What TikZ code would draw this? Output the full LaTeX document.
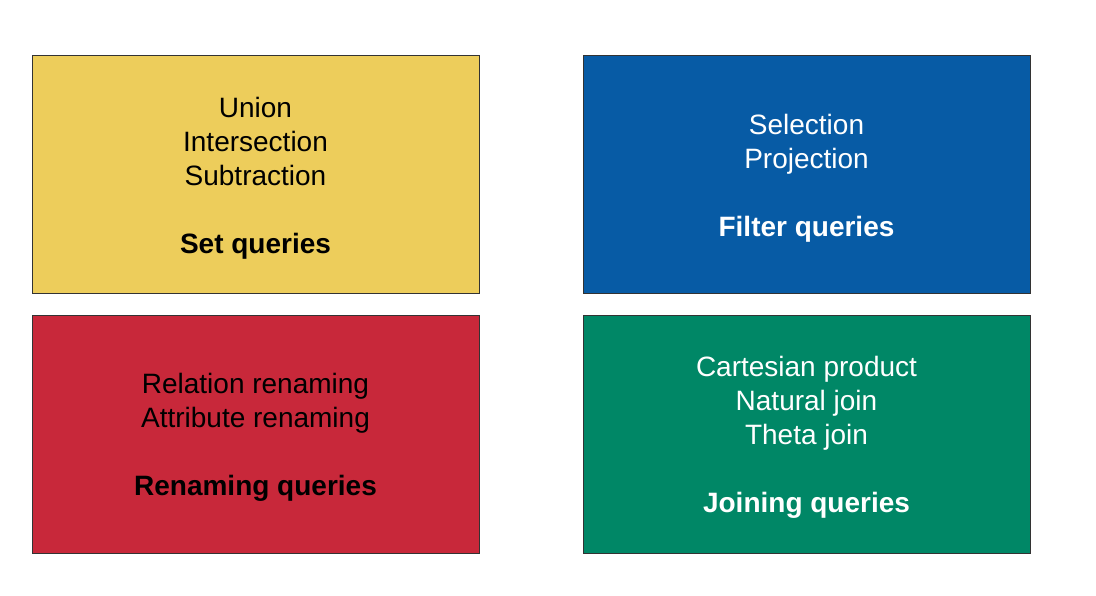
\documentclass[tikz,border=0pt]{standalone}
\usepackage{fontspec}
\setmainfont{Liberation Sans}
\definecolor{setyellow}{HTML}{EDCD5B}
\definecolor{filterblue}{HTML}{075BA5}
\definecolor{renamered}{HTML}{C8283A}
\definecolor{joingreen}{HTML}{008766}
\definecolor{edgegray}{HTML}{333333}
\begin{document}
\begin{tikzpicture}[x=1pt,y=-1pt,
  qbox/.style={draw=edgegray, line width=1pt, minimum width=447pt, minimum height=238pt,
    inner sep=0pt, align=center, font=\fontsize{28pt}{34pt}\selectfont},
  qtext/.style={inner sep=0pt, align=center, font=\fontsize{28pt}{34pt}\selectfont},
]
\useasboundingbox (0,0) rectangle (1096,596);
% four coloured panels
\node[qbox, fill=setyellow] (setq) at (255.5,175) {};
\node[qbox, fill=filterblue] (filterq) at (806.5,175) {};
\node[qbox, fill=renamered] (renameq) at (255.5,434.5) {};
\node[qbox, fill=joingreen] (joinq) at (806.5,434.5) {};
% panel contents
\node[qtext, text=black] (settext) at ([yshift=-3pt]setq.center)
  {Union\\Intersection\\Subtraction\\[34pt]\textbf{Set queries}};
\node[qtext, text=white] (filtertext) at ([yshift=-3pt]filterq.center)
  {Selection\\Projection\\[34pt]\textbf{Filter queries}};
\node[qtext, text=black] (renametext) at ([yshift=-3pt]renameq.center)
  {Relation renaming\\Attribute renaming\\[34pt]\textbf{Renaming queries}};
\node[qtext, text=white] (jointext) at ([yshift=-3pt]joinq.center)
  {Cartesian product\\Natural join\\Theta join\\[34pt]\textbf{Joining queries}};
\end{tikzpicture}
\end{document}
